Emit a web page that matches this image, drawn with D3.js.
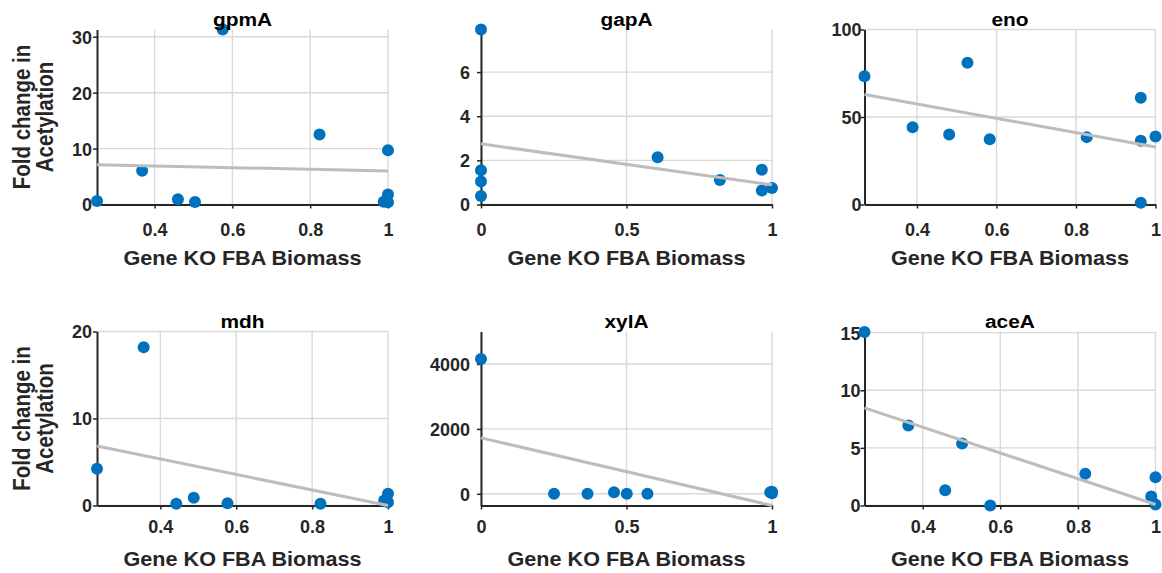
<!DOCTYPE html>
<html>
<head>
<meta charset="utf-8">
<script src="https://d3js.org/d3.v7.min.js"></script>
<style>
  body { margin: 0; background: #fff; }
  text { font-family: "Liberation Sans", Arial, Helvetica, sans-serif; font-weight: bold; }
</style>
</head>
<body>
<div id="my_dataviz"></div>
<script>
// panel names
var genes = ["gpmA", "gapA", "eno", "mdh", "xylA", "aceA"];

// x values (Gene KO FBA Biomass) per panel
var biomass = [
  [0.252, 0.368, 0.46, 0.504, 0.575, 0.824, 1, 1, 0.989, 1],
  [0, 0, 0, 0, 0.607, 0.821, 0.965, 0.965, 1],
  [0.268, 0.389, 0.481, 0.527, 0.583, 0.827, 0.963, 0.963, 1, 0.963],
  [0.233, 0.356, 0.442, 0.488, 0.577, 0.822, 0.99, 1, 1],
  [0, 0.251, 0.366, 0.457, 0.501, 0.572, 0.994, 1, 1],
  [0.25, 0.363, 0.458, 0.5015, 0.574, 0.819, 1, 0.989, 1]
];

// y values (Fold change in Acetylation) per panel
var foldChange = [
  [0.63, 6.04, 0.93, 0.45, 31.3, 12.5, 9.7, 1.8, 0.5, 0.4],
  [7.93, 1.55, 1.04, 0.38, 2.14, 1.11, 1.58, 0.63, 0.75],
  [73.3, 44.2, 40.0, 81.0, 37.3, 38.5, 61.0, 36.4, 38.9, 1.0],
  [4.23, 18.2, 0.2, 0.89, 0.27, 0.2, 0.58, 1.35, 0.38],
  [4154, 0, 0, 50, 0, 0, 50, 60, 20],
  [15.06, 6.94, 1.33, 5.38, 0, 2.75, 2.46, 0.78, 0.09]
];

// least squares line, value at left and right end of the x range
var fitLeft = [7.1, 2.75, 62.9, 6.84, 1723, 8.47];
var fitRight = [6.0, 0.89, 32.8, -0.1, -360, 0.09];

// axis ranges and ticks
var xDomains = [[0.252, 1], [0, 1], [0.268, 1], [0.233, 1], [0, 1], [0.25, 1]];
var yDomains = [[0, 31.3], [0, 7.93], [0, 100], [0, 20], [-360, 5000], [0, 15.1]];
var xTicks = [[0.4, 0.6, 0.8, 1], [0, 0.5, 1], [0.4, 0.6, 0.8, 1], [0.4, 0.6, 0.8, 1], [0, 0.5, 1], [0.4, 0.6, 0.8, 1]];
var yTicks = [[0, 10, 20, 30], [0, 2, 4, 6], [0, 50, 100], [0, 10, 20], [0, 2000, 4000], [0, 5, 10, 15]];

// page layout
var W = 1162, H = 573;
var colLeft = [97, 481, 864.5], plotW = 291;
var rowTop = [29.5, 331.5], rowBottom = [204.5, 505.5];
var xTickOffset = [31, 27];        // baseline of x tick labels below the axis, per row
var yTickGap = [5, 11, 3, 5, 11, 4];

var blue = "#0072BD", dark = "#262626";

var svg = d3.select("#my_dataviz")
  .append("svg")
    .attr("width", W)
    .attr("height", H);

genes.forEach(function(name, i) {
  var col = i % 3, row = Math.floor(i / 3);
  var left = colLeft[col], right = left + plotW;
  var top = rowTop[row], bottom = rowBottom[row];

  var x = d3.scaleLinear().domain(xDomains[i]).range([left, right]);
  var y = d3.scaleLinear().domain(yDomains[i]).range([bottom, top]);

  var g = svg.append("g");

  // grid lines
  g.selectAll(".gx").data(xTicks[i]).enter().append("line")
    .attr("x1", function(d) { return x(d); }).attr("x2", function(d) { return x(d); })
    .attr("y1", top).attr("y2", bottom)
    .attr("stroke", "#d9d9d9").attr("stroke-width", 1.4);
  g.selectAll(".gy").data(yTicks[i]).enter().append("line")
    .attr("x1", left).attr("x2", right)
    .attr("y1", function(d) { return y(d); }).attr("y2", function(d) { return y(d); })
    .attr("stroke", "#d9d9d9").attr("stroke-width", 1.4);

  // axes (ticks point out)
  var xAxis = g.append("g")
    .attr("transform", "translate(0," + bottom + ")")
    .call(d3.axisBottom(x).tickValues(xTicks[i]).tickSizeInner(4).tickSizeOuter(0).tickFormat(function(d) { return String(d); }));
  var yAxis = g.append("g")
    .attr("transform", "translate(" + left + ",0)")
    .call(d3.axisLeft(y).tickValues(yTicks[i]).tickSizeInner(4).tickSizeOuter(0).tickFormat(function(d) { return String(d); }));

  [xAxis, yAxis].forEach(function(a) {
    a.attr("font-size", null).attr("font-family", null);
    a.select(".domain").attr("stroke", dark).attr("stroke-width", 2);
    a.selectAll(".tick line").attr("stroke", dark).attr("stroke-width", 1.5);
    a.selectAll(".tick text")
      .attr("fill", dark)
      .style("font-size", "18px")
      .style("font-weight", "bold");
  });
  xAxis.selectAll(".tick text").attr("y", xTickOffset[row]).attr("dy", null);
  yAxis.selectAll(".tick text").attr("x", -yTickGap[i]).attr("dy", "0.36em");

  // points
  g.selectAll(".pt").data(biomass[i]).enter().append("circle")
    .attr("cx", function(d) { return x(d); })
    .attr("cy", function(d, k) { return y(foldChange[i][k]); })
    .attr("r", 6)
    .attr("fill", blue);

  // fitted line on top of the points
  g.append("path")
    .datum([[xDomains[i][0], fitLeft[i]], [xDomains[i][1], fitRight[i]]])
    .attr("fill", "none")
    .attr("stroke", "#bdbdbd")
    .attr("stroke-width", 3)
    .attr("d", d3.line()
      .x(function(d) { return x(d[0]); })
      .y(function(d) { return Math.min(y(d[1]), bottom); }));

  // title
  g.append("text")
    .attr("x", (left + right) / 2)
    .attr("y", top - 3.5)
    .attr("text-anchor", "middle")
    .attr("transform", "translate(" + (left + right) / 2 + ",0) scale(1.1,1) translate(" + (-(left + right) / 2) + ",0)")
    .attr("fill", "#000")
    .style("font-size", "19px")
    .text(name);

  // x label
  g.append("text")
    .attr("x", (left + right) / 2)
    .attr("y", bottom + 60.5)
    .attr("text-anchor", "middle")
    .attr("transform", "translate(" + (left + right) / 2 + ",0) scale(1.08,1) translate(" + (-(left + right) / 2) + ",0)")
    .attr("fill", dark)
    .style("font-size", "20px")
    .text("Gene KO FBA Biomass");

  // y label only for the first column
  if (col === 0) {
    var cy = (top + bottom) / 2;
    ["Fold change in", "Acetylation"].forEach(function(t, k) {
      g.append("text")
        .attr("transform", "translate(" + (30 + k * 23) + "," + cy + ") rotate(-90) scale(1,1.2)")
        .attr("text-anchor", "middle")
        .attr("fill", dark)
        .style("font-size", "20.5px")
        .text(t);
    });
  }
});
</script>
</body>
</html>
